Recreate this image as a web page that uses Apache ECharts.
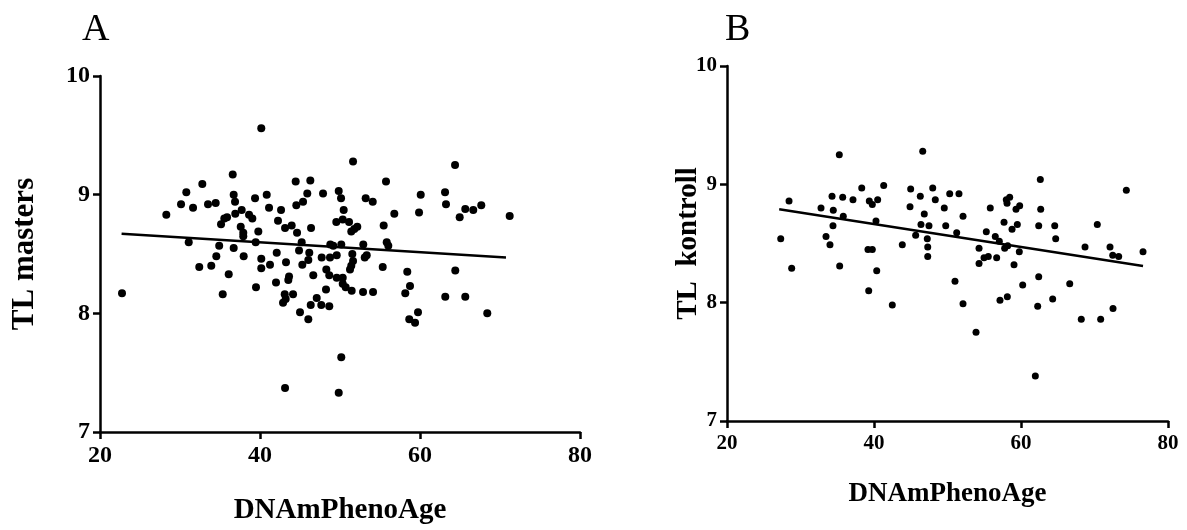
<!DOCTYPE html>
<html>
<head>
<meta charset="utf-8">
<script src="https://cdn.jsdelivr.net/npm/echarts@6/dist/echarts.min.js"></script>
<style>
  html, body { margin: 0; padding: 0; background: #fff; }
  #chart { width: 1187px; height: 530px; }
</style>
</head>
<body>
<div id="chart"></div>
<script>
// ---- Data ----
const panelLabels = ['A', 'B'];
const xAxisTitle = 'DNAmPhenoAge';
const yTitleA = 'TL masters';
const yTitleB = 'TL  kontroll';
const xTicks = [20, 40, 60, 80];
const yTicks = [7, 8, 9, 10];

// Panel A: masters [DNAmPhenoAge, TL]
const mastersPoints = [
  [28.29,8.83],[30.13,8.92],[30.79,9.02],[31.63,8.89],[32.79,9.09],[33.5,8.92],[34.46,8.93],
  [31.09,8.60],[34.9,8.57],[34.54,8.48],[22.75,8.17],[32.41,8.39],[33.91,8.40],[43.13,7.37],
  [49.84,7.33],[50.16,7.63],[40.16,9.56],
  [36.59,9.17],[36.71,9.00],[36.88,8.94],[36.91,8.84],[37.71,8.87],[35.54,8.80],[35.88,8.81],
  [35.13,8.75],[37.59,8.73],[37.91,8.68],[37.91,8.65],[36.71,8.55],[37.96,8.48],[36.09,8.33],
  [35.34,8.16],[39.38,8.97],[40.84,9.00],[41.13,8.89],[38.63,8.83],[39.04,8.80],[39.79,8.69],
  [39.46,8.60],[40.16,8.46],[40.16,8.38],[41.25,8.41],[39.5,8.22],[42.0,8.26],[42.63,8.87],
  [42.25,8.78],[42.09,8.51],[43.13,8.72],[43.96,8.74],[44.63,8.68],[43.25,8.43],[43.63,8.31],
  [43.54,8.28],[43.09,8.16],[44.13,8.16],[43.21,8.12],[42.88,8.09],[44.46,9.11],[44.54,8.91],
  [45.38,8.94],[45.91,9.01],[46.29,9.12],[46.38,8.72],[45.21,8.60],[44.88,8.53],[46.16,8.51],
  [46.04,8.45],[45.29,8.41],[46.66,8.32],[47.88,9.01],[47.71,8.47],[48.75,8.47],[48.79,8.58],
  [49.59,8.49],[48.29,8.37],[48.66,8.32],[49.59,8.30],[48.25,8.20],[47.09,8.13],[46.34,8.07],
  [47.66,8.07],[48.66,8.06],[45.0,8.01],[46.04,7.95],[49.54,8.77],[49.84,9.03],
  [51.63,9.28],[55.75,9.11],[50.13,8.97],[53.21,8.97],[54.09,8.94],[50.46,8.87],[50.34,8.79],
  [51.13,8.77],[52.16,8.73],[51.79,8.71],[51.41,8.69],[55.46,8.74],[56.79,8.84],[60.09,9.00],
  [59.88,8.85],[63.13,9.02],[63.25,8.92],[49.16,8.57],[50.16,8.58],[52.91,8.58],[55.84,8.60],
  [56.04,8.57],[51.54,8.50],[53.34,8.49],[53.09,8.47],[51.63,8.44],[51.41,8.40],[51.25,8.37],
  [50.34,8.30],[50.34,8.25],[50.71,8.22],[51.46,8.19],[52.88,8.18],[54.13,8.18],[55.34,8.39],
  [58.41,8.35],[58.75,8.23],[58.16,8.17],[59.75,8.01],[58.66,7.95],[59.38,7.92],[63.16,8.14],
  [64.38,9.25],[64.96,8.81],[65.66,8.88],[66.66,8.87],[67.66,8.91],[71.21,8.82],[64.41,8.36],
  [65.66,8.14],[68.41,8.00]
];
const mastersFit = [[22.7, 8.67], [70.75, 8.47]];

// Panel B: kontroll [DNAmPhenoAge, TL]
const kontrollPoints = [
  [27.31,8.54],[28.44,8.86],[32.79,8.80],[33.47,8.56],[34.01,8.49],[34.29,8.90],[34.46,8.78],
  [34.42,8.65],[35.28,9.25],[35.74,8.89],[35.82,8.73],[37.14,8.87],[38.33,8.97],[39.18,8.45],
  [39.77,8.45],[39.36,8.86],[39.77,8.83],[40.50,8.87],[40.27,8.69],[41.32,8.99],[43.85,8.49],
  [44.99,8.96],[44.90,8.81],[45.67,8.57],[46.30,8.90],[46.63,9.28],[46.84,8.75],[46.39,8.66],
  [47.48,8.65],[47.25,8.54],[47.31,8.47],[47.31,8.39],[47.99,8.97],[48.34,8.87],
  [28.80,8.29],[35.33,8.31],[40.37,8.27],[39.28,8.10],[42.49,7.98],
  [49.56,8.80],[49.76,8.65],[50.30,8.92],[51.56,8.92],[51.25,8.59],[52.11,8.73],[54.29,8.46],
  [55.28,8.60],[55.82,8.80],[56.50,8.56],[57.05,8.52],[57.69,8.68],[58.00,8.87],[58.46,8.89],
  [58.10,8.84],[58.78,8.62],[59.32,8.79],[59.82,8.82],[59.50,8.66],[57.78,8.46],[58.19,8.48],
  [59.77,8.43],[54.97,8.38],[55.55,8.39],[56.69,8.38],[62.63,9.04],[62.68,8.79],[62.41,8.65],
  [64.59,8.65],[64.72,8.54],[70.38,8.66],[68.71,8.47],[72.11,8.47],[72.48,8.40],[73.29,8.39],
  [74.33,8.95],[76.60,8.43],
  [54.29,8.33],[59.05,8.32],[51.02,8.18],[52.11,7.99],[53.88,7.75],[57.14,8.02],[58.14,8.05],
  [60.23,8.15],[62.41,8.22],[62.27,7.97],[64.31,8.03],[61.95,7.38],[66.63,8.16],[68.20,7.86],
  [70.84,7.86],[72.52,7.95]
];
const kontrollFit = [[27.1, 8.79], [76.6, 8.31]];

// ---- Chart ----
const FONT = '"Liberation Serif", "Times New Roman", serif';
const chart = echarts.init(document.getElementById('chart'), null, { renderer: 'canvas' });

function xAxisFor(gridIndex, labelSize, titleSize, nameGap) {
  return {
    type: 'value', gridIndex, min: xTicks[0], max: xTicks[xTicks.length - 1], interval: 20,
    name: xAxisTitle, nameLocation: 'middle', nameGap,
    nameTextStyle: { fontFamily: FONT, fontWeight: 'bold', fontSize: titleSize, color: '#000' },
    axisLine: { show: true, onZero: false, lineStyle: { color: '#000', width: 2.5 } },
    axisTick: { show: true, length: 7, lineStyle: { color: '#000', width: 2.5 } },
    axisLabel: { fontFamily: FONT, fontWeight: 'bold', fontSize: labelSize, color: '#000', margin: 12 },
    splitLine: { show: false }
  };
}
function yAxisFor(gridIndex, name, labelSize, titleSize, nameGap) {
  return {
    type: 'value', gridIndex, min: yTicks[0], max: yTicks[yTicks.length - 1], interval: 1,
    name, nameLocation: 'middle', nameGap, nameMoveOverlap: false,
    nameTextStyle: { fontFamily: FONT, fontWeight: 'bold', fontSize: titleSize, color: '#000' },
    axisLine: { show: true, onZero: false, lineStyle: { color: '#000', width: 2.5 } },
    axisTick: { show: true, length: 7, lineStyle: { color: '#000', width: 2.5 } },
    axisLabel: { fontFamily: FONT, fontWeight: 'bold', fontSize: labelSize, color: '#000', margin: 10 },
    splitLine: { show: false }
  };
}

chart.setOption({
  animation: false,
  backgroundColor: '#fff',
  title: [
    { text: panelLabels[0], left: 77, top: 6, textStyle: { fontFamily: FONT, fontWeight: 'normal', fontSize: 38, color: '#000' } },
    { text: panelLabels[1], left: 720, top: 6, textStyle: { fontFamily: FONT, fontWeight: 'normal', fontSize: 38, color: '#000' } }
  ],
  grid: [
    { left: 100, top: 76, width: 480, height: 356 },
    { left: 727, top: 66, width: 441, height: 355 }
  ],
  xAxis: [ xAxisFor(0, 24, 29, 64), xAxisFor(1, 21, 27, 60) ],
  yAxis: [ yAxisFor(0, yTitleA, 24, 31, 60), yAxisFor(1, yTitleB, 21, 29, 24) ],
  series: [
    { type: 'scatter', xAxisIndex: 0, yAxisIndex: 0, data: mastersPoints, symbol: 'circle', symbolSize: 8,
      itemStyle: { color: '#000', opacity: 1 }, silent: true },
    { type: 'line', xAxisIndex: 0, yAxisIndex: 0, data: mastersFit, symbol: 'none',
      lineStyle: { color: '#000', width: 2.5 }, silent: true },
    { type: 'scatter', xAxisIndex: 1, yAxisIndex: 1, data: kontrollPoints, symbol: 'circle', symbolSize: 7,
      itemStyle: { color: '#000', opacity: 1 }, silent: true },
    { type: 'line', xAxisIndex: 1, yAxisIndex: 1, data: kontrollFit, symbol: 'none',
      lineStyle: { color: '#000', width: 2.5 }, silent: true }
  ]
});
</script>
</body>
</html>
